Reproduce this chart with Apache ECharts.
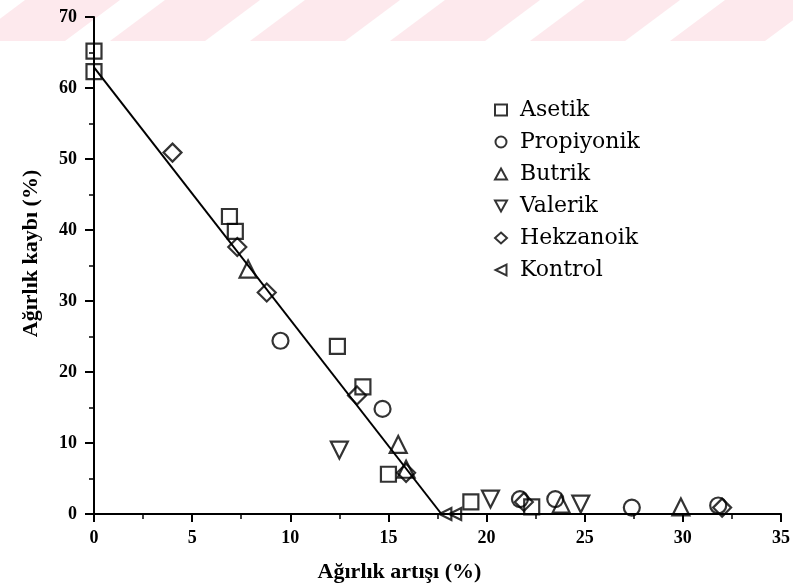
<!DOCTYPE html>
<html><head><meta charset="utf-8">
<script src="https://cdn.jsdelivr.net/npm/echarts@6/dist/echarts.min.js"></script>
<style>html,body{margin:0;padding:0;background:#fff}#c{width:793px;height:588px}</style>
</head><body><div id="c"></div>
<script>
const xTicks = [0,5,10,15,20,25,30,35];
const yTicks = [0,10,20,30,40,50,60,70];
const seriesNames = ['Asetik','Propiyonik','Butrik','Valerik','Hekzanoik','Kontrol'];
const asetik = [[0,65.2],[0,62.3],[6.9,41.9],[7.2,39.8],[12.4,23.6],[13.7,17.9],[15.0,5.6],[19.2,1.7],[22.3,1.0]];
const propiyonik = [[9.5,24.4],[14.7,14.8],[21.7,2.1],[23.5,2.1],[27.4,0.9],[31.8,1.2]];
const butrik = [[7.85,34.5],[15.5,9.8],[15.9,6.3],[23.8,1.4],[29.9,1.0]];
const valerik = [[12.5,9.0],[20.2,2.1],[24.8,1.4]];
const hekzanoik = [[4.0,50.9],[7.3,37.6],[8.8,31.2],[13.4,16.7],[15.9,5.8],[21.9,1.7],[32.0,0.9]];
const kontrol = [[17.9,0],[18.4,0]];
const fitLine = [[0,62.9],[17.7,0]];

const FONT = '"Liberation Serif","DejaVu Serif",serif';
const LFONT = '"DejaVu Serif","Liberation Serif",serif';
const chart = echarts.init(document.getElementById('c'), null, {renderer:'canvas'});
const hollow = {color:'rgba(0,0,0,0)', borderColor:'#000', borderWidth:2.2};
function sc(name, data, symbol, size){
  return {name, type:'scatter', data, symbol, symbolSize:size, itemStyle:hollow, z:3};
}
// watermark band
const wm = [];
const pink = '#fde9ed';
for (let i=0;i<6;i++){
  const x0 = -30 + i*140;
  wm.push({type:'polygon', shape:{points:[[x0,41],[x0+95,41],[x0+150,0],[x0+55,0]]}, style:{fill:pink}, z:-10, silent:true});
}
chart.setOption({
  backgroundColor:'#fff',
  animation:false,
  graphic: wm,
  grid:{left:94, right:11, top:17, bottom:73},
  legend:{
    orient:'vertical', left:489, top:92, itemGap:6, itemWidth:12, itemHeight:11,
    data: seriesNames,
    itemStyle:{borderWidth:2},
    textStyle:{fontFamily:LFONT, fontSize:22, color:'#000', lineHeight:26, padding:[0,0,0,8]}
  },
  xAxis:{
    type:'value', min:0, max:35, interval:5,
    name:'Ağırlık artışı (%)', nameLocation:'middle', nameGap:47,
    nameTextStyle:{fontFamily:FONT, fontSize:22, fontWeight:'bold', color:'#000', padding:[0,76,0,0]},
    axisLine:{lineStyle:{color:'#000', width:2}},
    axisTick:{show:true, inside:false, length:8, lineStyle:{color:'#000', width:2}},
    minorTick:{show:true, splitNumber:2, length:5, lineStyle:{color:'#000', width:1.5}},
    axisLabel:{fontFamily:FONT, fontSize:18, fontWeight:'bold', color:'#000', margin:15,
      formatter: v => xTicks.includes(v) ? String(v) : ''},
    splitLine:{show:false}
  },
  yAxis:{
    type:'value', min:0, max:70, interval:10,
    name:'Ağırlık kaybı (%)', nameLocation:'middle', nameGap:52, nameRotate:90,
    nameTextStyle:{fontFamily:FONT, fontSize:22, fontWeight:'bold', color:'#000', padding:[0,0,0,24]},
    axisLine:{show:true, lineStyle:{color:'#000', width:2}},
    axisTick:{show:true, inside:false, length:9, lineStyle:{color:'#000', width:2}},
    minorTick:{show:true, splitNumber:2, length:5, lineStyle:{color:'#000', width:1.5}},
    axisLabel:{fontFamily:FONT, fontSize:18, fontWeight:'bold', color:'#000', margin:17,
      formatter: v => yTicks.includes(v) ? String(v) : ''},
    splitLine:{show:false}
  },
  series:[
    sc('Asetik', asetik, 'rect', 15),
    sc('Propiyonik', propiyonik, 'circle', 16),
    sc('Butrik', butrik, 'triangle', 17),
    sc('Valerik', valerik, 'path://M0,0 L10,0 L5,9 Z', 17),
    sc('Hekzanoik', hekzanoik, 'diamond', 18),
    sc('Kontrol', kontrol, 'path://M10,0 L10,10 L0,5 Z', 12),
    {type:'line', data:fitLine, symbol:'none', lineStyle:{color:'#000', width:2}, z:2, silent:true}
  ]
});
</script></body></html>
